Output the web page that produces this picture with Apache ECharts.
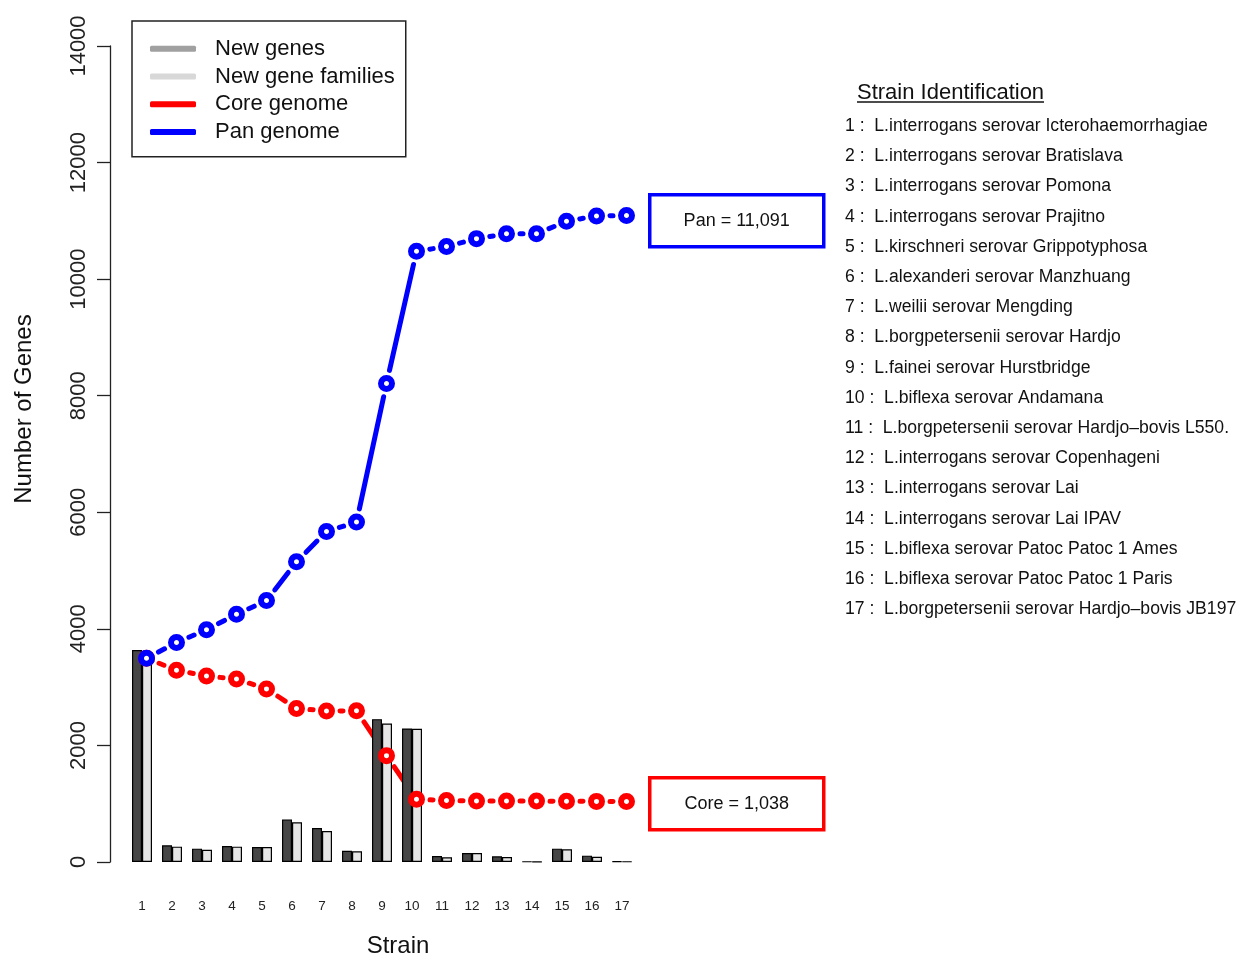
<!DOCTYPE html>
<html>
<head>
<meta charset="utf-8">
<script src="https://cdn.jsdelivr.net/npm/echarts@6/dist/echarts.min.js"></script>
<style>
  html, body { margin: 0; padding: 0; background: #fff; }
  #chart { width: 1240px; height: 956px; }
</style>
</head>
<body>
<div id="chart"></div>
<script>
// strain numbers on the x axis
var strains = ["1", "2", "3", "4", "5", "6", "7", "8", "9", "10", "11", "12", "13", "14", "15", "16", "17"];
var yTicks = [0, 2000, 4000, 6000, 8000, 10000, 12000, 14000];

// bars
var newGenes = [3636, 286, 229, 274, 257, 731, 583, 194, 2451, 2291, 103, 154, 97, 8, 229, 109, 10];
var newGeneFamilies = [3600, 263, 211, 263, 257, 680, 531, 183, 2377, 2286, 80, 154, 86, 5, 217, 91, 8];

// curves
var coreGenome = [3495, 3290, 3190, 3140, 2970, 2635, 2590, 2595, 1825, 1075, 1055, 1045, 1045, 1045, 1042, 1040, 1038];
var panGenome = [3495, 3765, 3985, 4250, 4485, 5150, 5670, 5832, 8208, 10478, 10560, 10695, 10778, 10778, 10992, 11085, 11091];

var strainNames = [
  "L.interrogans serovar Icterohaemorrhagiae",
  "L.interrogans serovar Bratislava",
  "L.interrogans serovar Pomona",
  "L.interrogans serovar Prajitno",
  "L.kirschneri serovar Grippotyphosa",
  "L.alexanderi serovar Manzhuang",
  "L.weilii serovar Mengding",
  "L.borgpetersenii serovar Hardjo",
  "L.fainei serovar Hurstbridge",
  "L.biflexa serovar Andamana",
  "L.borgpetersenii serovar Hardjo\u2013bovis L550.",
  "L.interrogans serovar Copenhageni",
  "L.interrogans serovar Lai",
  "L.interrogans serovar Lai IPAV",
  "L.biflexa serovar Patoc Patoc 1 Ames",
  "L.biflexa serovar Patoc Patoc 1 Paris",
  "L.borgpetersenii serovar Hardjo\u2013bovis JB197"
];

var FONT = '"Liberation Sans", Arial, Helvetica, sans-serif';
var RED = "#ff0000";
var BLUE = "#0000ff";

var myChart = echarts.init(document.getElementById("chart"));

function points(arr) {
  var out = [];
  for (var i = 0; i < arr.length; i++) {
    out.push([i + 1, arr[i]]);
  }
  return out;
}

function segments(arr) {
  var out = [];
  for (var i = 0; i < arr.length - 1; i++) {
    out.push([i + 1, arr[i], i + 2, arr[i + 1]]);
  }
  return out;
}

// R type="b" look: segments stop short of the points
function segRenderer(color) {
  return function (params, api) {
    var p1 = api.coord([api.value(0), api.value(1)]);
    var p2 = api.coord([api.value(2), api.value(3)]);
    var dx = p2[0] - p1[0], dy = p2[1] - p1[1];
    var len = Math.sqrt(dx * dx + dy * dy);
    var gap = 13.5;
    if (len <= gap * 2) return null;
    var ux = dx / len, uy = dy / len;
    return {
      type: "line",
      shape: {
        x1: p1[0] + ux * gap, y1: p1[1] + uy * gap,
        x2: p2[0] - ux * gap, y2: p2[1] - uy * gap
      },
      style: { stroke: color, lineWidth: 5, lineCap: "round" }
    };
  };
}

var fmt = function (v) { return v.toLocaleString("en-US"); };

var listText = [];
for (var i = 0; i < strainNames.length; i++) {
  listText.push((i + 1) + " :  " + strainNames[i]);
}

var option = {
  backgroundColor: "#fff",
  animation: false,
  textStyle: { fontFamily: FONT },
  grid: { left: 127, right: 603, top: 46, bottom: 94, outerBoundsMode: "none", containLabel: false },
  legend: {
    orient: "vertical",
    left: 132,
    top: 21,
    padding: [14, 11, 11, 18],
    borderColor: "#222",
    borderWidth: 1.5,
    backgroundColor: "#fff",
    itemWidth: 46,
    itemHeight: 6,
    itemGap: 0,
    selectedMode: false,
    textStyle: { fontSize: 22, lineHeight: 27.7, color: "#111", fontFamily: FONT, padding: [0, 0, 0, 14] },
    data: [
      { name: "New genes", icon: "roundRect", itemStyle: { color: "#a0a0a0", borderWidth: 0 } },
      { name: "New gene families", icon: "roundRect", itemStyle: { color: "#d8d8d8", borderWidth: 0 } },
      { name: "Core genome", icon: "roundRect", itemStyle: { color: RED, borderWidth: 0 } },
      { name: "Pan genome", icon: "roundRect", itemStyle: { color: BLUE, borderWidth: 0 } }
    ]
  },
  xAxis: [
    {
      type: "category",
      data: strains,
      name: "Strain",
      nameLocation: "middle",
      nameGap: 72,
      nameTextStyle: { fontSize: 24, color: "#111", fontFamily: FONT, padding: [0, 0, 0, 32] },
      axisLine: { show: false },
      axisTick: { show: false },
      axisLabel: { margin: 37, fontSize: 13.5, color: "#222", fontFamily: FONT }
    },
    {
      // same strains as numbers, a touch to the right as in the original plot
      type: "value",
      min: 0.35,
      max: 17.35,
      show: false
    }
  ],
  yAxis: {
    type: "value",
    min: yTicks[0],
    max: yTicks[yTicks.length - 1],
    interval: 2000,
    offset: 17,
    name: "Number of Genes",
    nameLocation: "middle",
    nameGap: 74,
    nameTextStyle: { fontSize: 24, color: "#111", fontFamily: FONT, padding: [0, 0, 0, 90] },
    axisLine: { show: true, lineStyle: { color: "#222", width: 1.3 } },
    axisTick: { show: true, length: 13, lineStyle: { color: "#222", width: 1.3 } },
    splitLine: { show: false },
    axisLabel: {
      rotate: 90, margin: 20, fontSize: 22, color: "#222", fontFamily: FONT,
      formatter: function (v) { return String(v); }
    }
  },
  series: [
    {
      name: "New genes",
      type: "bar",
      data: newGenes,
      barWidth: 10,
      barGap: "0%",
      itemStyle: { color: "#474747", borderColor: "#000", borderWidth: 1.2 }
    },
    {
      name: "New gene families",
      type: "bar",
      data: newGeneFamilies,
      barWidth: 10,
      itemStyle: { color: "#e6e6e6", borderColor: "#000", borderWidth: 1.2 }
    },
    {
      name: "Core genome",
      type: "custom",
      xAxisIndex: 1,
      data: segments(coreGenome),
      encode: { x: [0, 2], y: [1, 3] },
      renderItem: segRenderer(RED)
    },
    {
      name: "Core genome",
      type: "scatter",
      xAxisIndex: 1,
      data: points(coreGenome),
      symbol: "circle",
      symbolSize: 11,
      itemStyle: { color: "#fff", borderColor: RED, borderWidth: 6, opacity: 1 }
    },
    {
      name: "Pan genome",
      type: "custom",
      xAxisIndex: 1,
      data: segments(panGenome),
      encode: { x: [0, 2], y: [1, 3] },
      renderItem: segRenderer(BLUE)
    },
    {
      name: "Pan genome",
      type: "scatter",
      xAxisIndex: 1,
      data: points(panGenome),
      symbol: "circle",
      symbolSize: 11,
      itemStyle: { color: "#fff", borderColor: BLUE, borderWidth: 6, opacity: 1 }
    }
  ],
  graphic: [
    {
      type: "group",
      left: 648,
      top: 193,
      children: [
        { type: "rect", shape: { x: 0, y: 0, width: 174, height: 52 }, style: { fill: "#fff", stroke: BLUE, lineWidth: 3.5 } },
        { type: "text", x: 87, y: 26, style: { text: "Pan = " + fmt(panGenome[panGenome.length - 1]), fontSize: 18, fontFamily: FONT, fill: "#111", align: "center", verticalAlign: "middle" } }
      ]
    },
    {
      type: "group",
      left: 648,
      top: 776,
      children: [
        { type: "rect", shape: { x: 0, y: 0, width: 174, height: 52 }, style: { fill: "#fff", stroke: RED, lineWidth: 3.5 } },
        { type: "text", x: 87, y: 26, style: { text: "Core = " + fmt(coreGenome[coreGenome.length - 1]), fontSize: 18, fontFamily: FONT, fill: "#111", align: "center", verticalAlign: "middle" } }
      ]
    },
    {
      type: "text",
      left: 857,
      top: 82,
      style: { text: "Strain Identification", fontSize: 22, fontFamily: FONT, fill: "#111" }
    },
    {
      type: "line",
      shape: { x1: 857, y1: 102, x2: 1044, y2: 102 },
      style: { stroke: "#111", lineWidth: 1.3 }
    },
    {
      type: "text",
      left: 845,
      top: 111,
      style: { text: listText.join("\n"), fontSize: 17.6, lineHeight: 30.2, fontFamily: FONT, fill: "#111" }
    }
  ]
};

myChart.setOption(option);
</script>
</body>
</html>
